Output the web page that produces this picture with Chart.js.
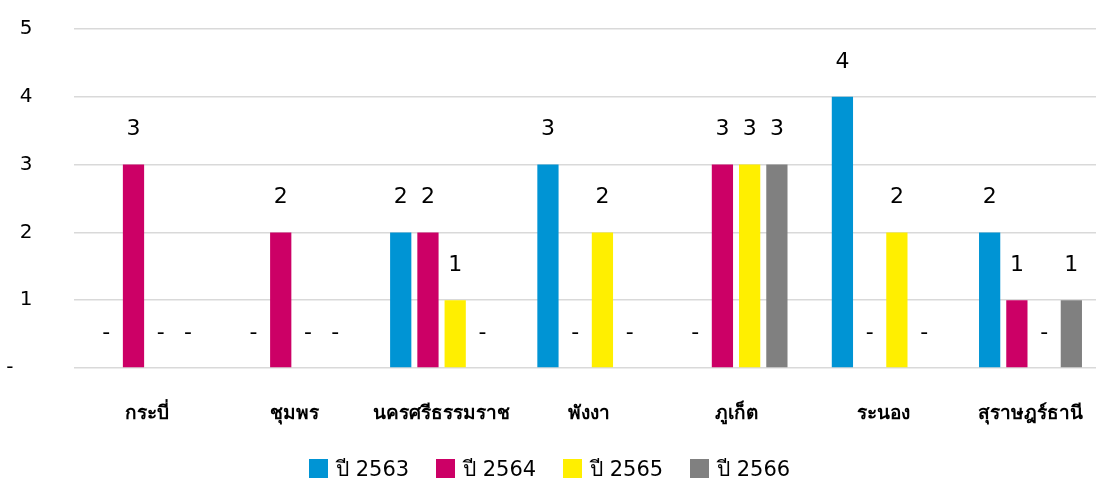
<!DOCTYPE html>
<html>
<head>
<meta charset="utf-8">
<script src="https://cdn.jsdelivr.net/npm/chart.js@4.4.1/dist/chart.umd.min.js"></script>
<style>
html,body{margin:0;padding:0;background:#fff;overflow:hidden;width:1096px;height:478px;position:relative;}
#wrap{position:absolute;left:0;top:0;width:1110px;height:478px;}
#legend{position:absolute;left:309px;top:459px;height:19px;display:flex;}
.li{width:127px;height:19px;display:flex;align-items:center;font-family:Tahoma,'DejaVu Sans','Noto Sans',sans-serif;font-size:21px;color:#000;white-space:nowrap;}
.sw{width:19px;height:19px;margin-right:8px;flex:none;}
</style>
</head>
<body>
<div id="wrap"><canvas id="c" width="1110" height="478"></canvas></div>
<div id="legend"></div>
<script>
const categories = ['กระบี่','ชุมพร','นครศรีธรรมราช','พังงา','ภูเก็ต','ระนอง','สุราษฎร์ธานี'];
const seriesNames = ['ปี 2563','ปี 2564','ปี 2565','ปี 2566'];
const y2563 = [0,0,2,3,0,4,2];
const y2564 = [3,2,2,0,3,0,1];
const y2565 = [0,0,1,2,3,2,0];
const y2566 = [0,0,0,0,3,0,1];
const yTicks = [0,1,2,3,4,5];
const colors = ['#0094D4','#CC0066','#FFEF00','#808080'];

const FONT = "Tahoma, 'DejaVu Sans', 'Noto Sans', sans-serif";
const allSeries = [y2563,y2564,y2565,y2566];

const dataLabels = {
  id:'dataLabels',
  afterDatasetsDraw(chart){
    const ctx = chart.ctx;
    ctx.save();
    ctx.font = '22px ' + FONT;
    ctx.fillStyle = '#000';
    ctx.textAlign = 'center';
    ctx.textBaseline = 'middle';
    chart.data.datasets.forEach((ds,i)=>{
      const meta = chart.getDatasetMeta(i);
      meta.data.forEach((el,j)=>{
        const v = ds.data[j];
        ctx.fillText(v===0?'-':String(v), el.x, el.y - 35);
      });
    });
    ctx.restore();
  }
};

const chart = new Chart(document.getElementById('c'),{
  type:'bar',
  data:{
    labels:categories,
    datasets: allSeries.map((d,i)=>({
      label:seriesNames[i], data:d, backgroundColor:colors[i],
      categoryPercentage:0.74, barPercentage:0.78
    }))
  },
  options:{
    responsive:false, animation:false,
    layout:{padding:{top:29,right:0,bottom:50,left:0}},
    plugins:{ tooltip:{enabled:false}, legend:{display:false} },
    scales:{
      x:{
        afterFit(s){ s.height = 60; },
        grid:{display:false}, border:{display:false},
        ticks:{color:'#000', padding:27, maxRotation:0, font:{family:FONT,size:19,weight:'bold'}}
      },
      y:{
        min:0, max:5,
        afterFit(s){ s.width = 73.5; s.paddingTop = 0; s.paddingBottom = 0; },
        afterBuildTicks(s){ s.ticks = yTicks.map(v=>({value:v})); },
        grid:{color:'#d9d9d9', lineWidth:1.5, drawTicks:false},
        border:{display:false},
        ticks:{color:'#000', padding:41, font:{family:FONT,size:20},
          callback:(v)=> v===0 ? '-   ' : String(v)}
      }
    }
  },
  plugins:[dataLabels]
});

const lg = document.getElementById('legend');
seriesNames.forEach((n,i)=>{
  const d = document.createElement('div'); d.className='li';
  const s = document.createElement('span'); s.className='sw'; s.style.background=colors[i];
  d.appendChild(s); d.appendChild(document.createTextNode(n)); lg.appendChild(d);
});
</script>
</body>
</html>
